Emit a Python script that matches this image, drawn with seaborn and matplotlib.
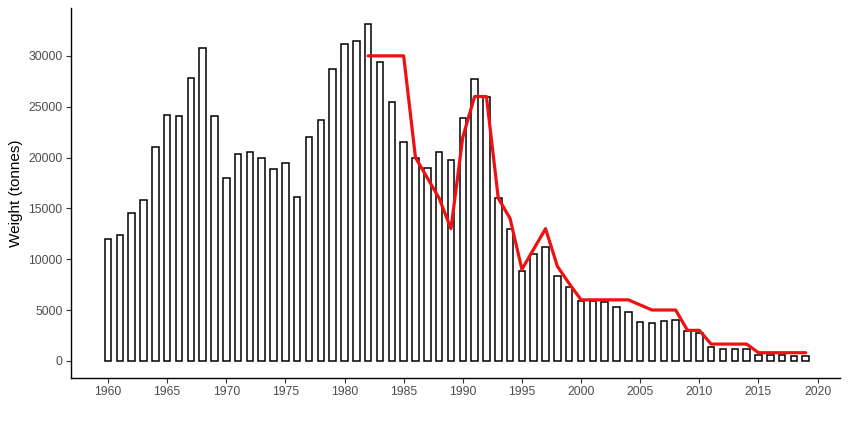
import numpy as np
import pandas as pd
import seaborn as sns
import matplotlib.pyplot as plt

# landings per year (tonnes)
years = list(range(1960, 2020))
catch = [12000, 12400, 14500, 15800, 21000, 24200, 24100, 27800, 30800, 24100,
         18000, 20300, 20500, 20000, 18900, 19500, 16100, 22000, 23700, 28700,
         31200, 31500, 33100, 29400, 25500, 21500, 20000, 19000, 20500, 19800,
         23900, 27700, 26000, 16000, 13000, 8800, 10500, 11200, 8300, 7300,
         5850, 5850, 5800, 5340, 4780, 3800, 3700, 3900, 4030, 2950,
         2780, 1380, 1180, 1180, 1180, 620, 620, 620, 460, 520]

# quota line
tac_years = list(range(1982, 2020))
tac = [30000, 30000, 30000, 30000, 20000, 18000, 16000, 13000, 22000, 26000,
       26000, 16000, 14000, 9000, 11000, 13000, 9300, 7600, 6000, 6000,
       6000, 6000, 6000, 5500, 5000, 5000, 5000, 3000, 3000, 1650,
       1650, 1650, 1650, 800, 800, 800, 800, 800]

df = pd.DataFrame({"year": years, "catch": catch})
df_tac = pd.DataFrame({"year": tac_years, "tac": tac})

sns.set_theme(style="ticks")
plt.rcParams['font.family'] = ['Liberation Sans', 'DejaVu Sans']

fig = plt.figure(figsize=(8.5, 4.25), dpi=100)
ax = fig.add_axes([0.0835, 0.111, 0.9045, 0.87])

sns.barplot(data=df, x="year", y="catch", native_scale=True, width=0.55,
            color="white", edgecolor="black", linewidth=1.1, ax=ax)
sns.lineplot(data=df_tac, x="year", y="tac", color="#ee1111", linewidth=2.3, ax=ax)

ax.set_xlim(1956.87, 2021.88)
ax.set_ylim(-1670, 34700)
ax.set_xticks(range(1960, 2021, 5))
ax.set_yticks(range(0, 30001, 5000))
ax.set_xlabel("")
ax.set_ylabel("Weight (tonnes)", fontsize=11, color="black")
ax.tick_params(axis="both", labelsize=8.8, labelcolor="#4d4d4d", length=3.5,
               width=0.8, color="#333333", pad=2.5)
for s in ["top", "right"]:
    ax.spines[s].set_visible(False)
for s in ["left", "bottom"]:
    ax.spines[s].set_linewidth(1.0)
    ax.spines[s].set_color("black")

fig.savefig("out.png", dpi=100)
